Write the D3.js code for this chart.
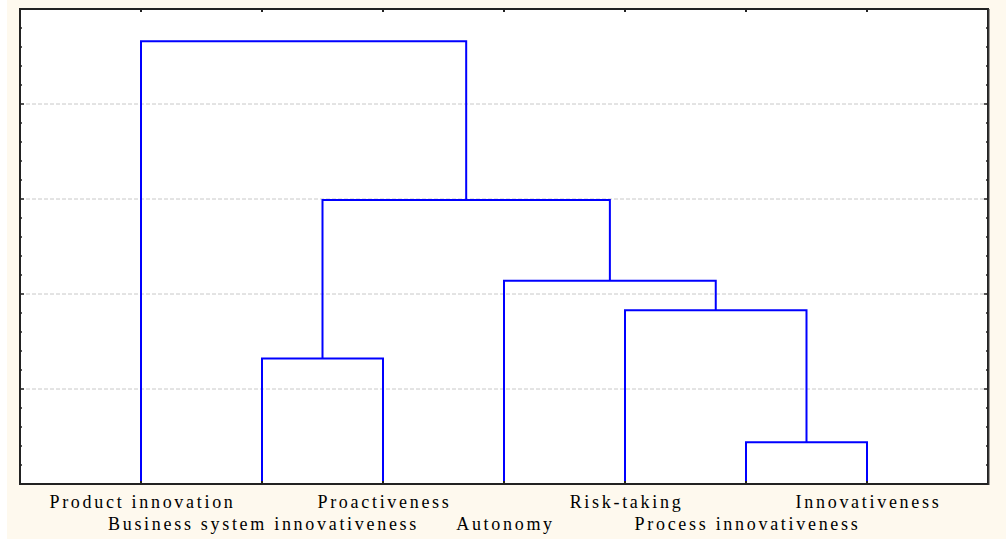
<!DOCTYPE html>
<html>
<head>
<meta charset="utf-8">
<script src="https://d3js.org/d3.v7.min.js"></script>
<style>
  body { margin: 0; background: #ffffff; }
  .label { font-family: "Liberation Serif", "Times New Roman", serif; font-size: 18px; letter-spacing: 2.7px; fill: #000; }
  .link { fill: none; stroke: #0000ff; stroke-width: 2; }
  .grid line { stroke: #c8c8c8; stroke-dasharray: 4,2; }
</style>
</head>
<body>
<div id="graph"></div>
<script>
// leaves in dendrogram order (left to right)
var leaves = ["Product innovation", "Business system innovativeness", "Proactiveness",
              "Autonomy", "Risk-taking", "Process innovativeness", "Innovativeness"];

// merges: [left child, right child, linkage distance]; children are leaf names or earlier merge ids
var mergeIds     = ["m1", "m2", "m3", "m4", "m5", "m6"];
var mergeLeft    = ["Process innovativeness", "Risk-taking", "Autonomy", "Business system innovativeness", "m4", "Product innovation"];
var mergeRight   = ["Innovativeness", "m1", "m2", "Proactiveness", "m3", "m5"];
var mergeHeights = [0.44, 1.83, 2.14, 1.32, 2.99, 4.66];

// y axis (no labels shown in the picture)
var yMajor = [0, 1, 2, 3, 4, 5];
var yMinor = d3.range(0, 5.01, 0.2);

var W = 1006, H = 541;
var margin = {top: 9, right: 18, bottom: 57, left: 20}
  , width = W - margin.left - margin.right
  , height = H - margin.top - margin.bottom;

var svg0 = d3.select("#graph").append("svg")
    .attr("width", W)
    .attr("height", H);

// cream page background
svg0.append("rect")
    .attr("x", 7).attr("y", 0)
    .attr("width", W - 7).attr("height", H - 2)
    .attr("fill", "#fef9ee");

var svg = svg0.append("g")
    .attr("transform", "translate(" + margin.left + "," + margin.top + ")");

var xScale = d3.scalePoint()
    .domain(leaves)
    .range([0, width])
    .padding(1);

var yScale = d3.scaleLinear()
    .domain([0, 5])
    .range([height, 0]);

// plot area
svg.append("rect")
    .attr("width", width)
    .attr("height", height)
    .attr("fill", "#ffffff");

// gridlines
svg.append("g")
    .attr("class", "grid")
    .selectAll("line")
    .data(yMajor.slice(1, -1))
    .enter().append("line")
    .attr("x1", 0).attr("x2", width)
    .attr("y1", function(d) { return yScale(d); })
    .attr("y2", function(d) { return yScale(d); });

// build node positions
var pos = {};
leaves.forEach(function(l) { pos[l] = {x: xScale(l), y: yScale(0)}; });

var links = [];
mergeIds.forEach(function(id, i) {
  var a = pos[mergeLeft[i]], b = pos[mergeRight[i]];
  var yy = yScale(mergeHeights[i]);
  links.push([[a.x, a.y], [a.x, yy], [b.x, yy], [b.x, b.y]]);
  pos[id] = {x: (a.x + b.x) / 2, y: yy};
});

var line = d3.line();

svg.selectAll(".link")
    .data(links)
    .enter().append("path")
    .attr("class", "link")
    .attr("d", line);

// ticks (inward) on all four sides
var tickCol = "#222";
function yTicks(xPos, dir) {
  svg.append("g").selectAll("line")
    .data(yMinor)
    .enter().append("line")
    .attr("x1", xPos)
    .attr("x2", function(d) {
      var major = Math.abs(d - Math.round(d)) < 1e-6;
      return xPos + dir * (major ? 4 : 2);
    })
    .attr("y1", function(d) { return yScale(d); })
    .attr("y2", function(d) { return yScale(d); })
    .attr("stroke", tickCol)
    .attr("stroke-width", 1.5);
}
yTicks(0, 1);
yTicks(width, -1);

function xTicks(yPos, dir) {
  svg.append("g").selectAll("line")
    .data(leaves)
    .enter().append("line")
    .attr("x1", function(d) { return xScale(d); })
    .attr("x2", function(d) { return xScale(d); })
    .attr("y1", yPos)
    .attr("y2", yPos + dir * 3)
    .attr("stroke", tickCol)
    .attr("stroke-width", 2);
}
xTicks(0, 1);
xTicks(height, -1);

// frame
svg.append("rect")
    .attr("width", width)
    .attr("height", height)
    .attr("fill", "none")
    .attr("stroke", "#222")
    .attr("stroke-width", 2);

svg.append("line")
    .attr("x1", width + 1).attr("x2", width + 1)
    .attr("y1", 0).attr("y2", height + 1)
    .attr("stroke", "#444")
    .attr("stroke-width", 1);

// leaf labels, alternating rows
svg.selectAll(".label")
    .data(leaves)
    .enter().append("text")
    .attr("class", "label")
    .attr("x", function(d) { return xScale(d) + 1.5; })
    .attr("y", function(d, i) { return height + (i % 2 === 0 ? 24 : 46); })
    .style("text-anchor", "middle")
    .text(function(d) { return d; });
</script>
</body>
</html>
